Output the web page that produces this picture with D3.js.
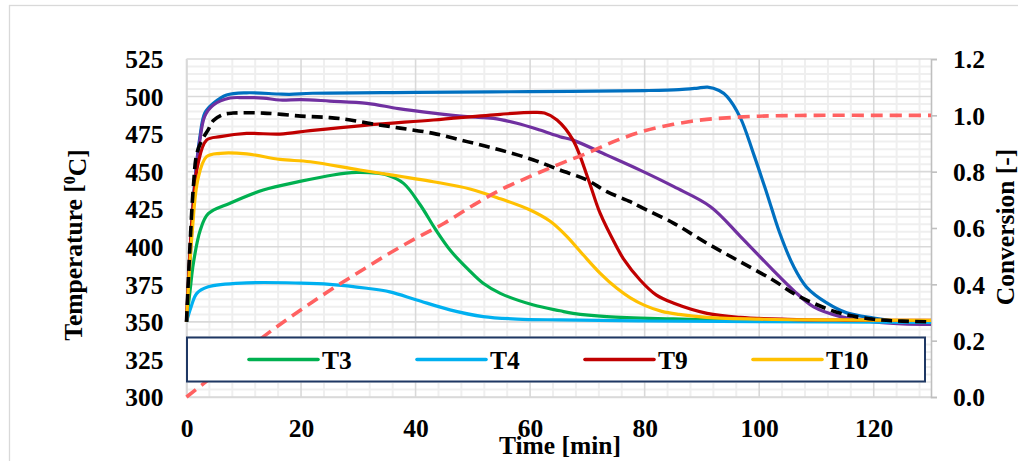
<!DOCTYPE html>
<html>
<head>
<meta charset="utf-8">
<script src="https://cdn.jsdelivr.net/npm/d3@7"></script>
<style>
  html, body { margin: 0; padding: 0; background: #fff; }
  svg { display: block; }
  text { font-family: "Liberation Serif", "Times New Roman", serif; font-weight: bold; fill: #000; }
</style>
</head>
<body>
<svg id="chart" width="1018" height="461"></svg>
<script>
// ---- data: temperatures [°C] against time [min] ----
const timeTicks = [0, 20, 40, 60, 80, 100, 120];
const tempTicks = [300, 325, 350, 375, 400, 425, 450, 475, 500, 525];
const convTicks = [0, 0.2, 0.4, 0.6, 0.8, 1.0, 1.2];

const legendNames = ["T3", "T4", "T9", "T10"];

// hottest thermocouple (blue)
const tempBlue = [
  [0, 350], [1, 420], [1.5, 445], [2.3, 472], [3.2, 489], [4.7, 495.5], [7, 501],
  [10.5, 502.5], [16, 501.7], [18, 501.5], [22, 502.2], [40, 502.8], [60, 503.3],
  [80, 504], [86, 504.6], [89, 505.5], [91, 506.3], [93, 504], [94.4, 500],
  [96.7, 486], [99, 462], [101.3, 436], [103.6, 409], [106, 387], [108.3, 373],
  [111.8, 362.6], [115.3, 356], [120, 352.5], [125, 350], [130, 348.5]
];
// purple thermocouple
const tempPurple = [
  [0, 350], [1, 415], [1.5, 445], [2.3, 470], [3.2, 487], [4.7, 494.4], [7.6, 499],
  [10, 499.3], [13.4, 499], [16.3, 497.7], [20, 498], [25, 497], [31.5, 495.5],
  [37, 492], [43.1, 489], [49, 486.6], [53.6, 485.5], [57.7, 482.2], [61.7, 477.7],
  [65.2, 473.3], [67.5, 471], [73.4, 461], [79.2, 451], [85.1, 440], [91.5, 426.7],
  [96.7, 407], [102.4, 384.5], [106, 371], [109.5, 360], [114.2, 353.5], [120, 350],
  [125, 348.7], [130, 348.3]
];
// mean bed temperature (black dashed)
const tempMean = [
  [0, 350], [0.6, 400], [1.2, 440], [1.8, 462], [2.7, 471], [3.8, 478], [4.7, 484],
  [6.4, 488], [8.1, 489], [13.4, 489], [20, 487], [25, 486], [28.6, 484.4],
  [33, 481.5], [37.3, 479], [43.1, 475.5], [49, 470], [54.8, 464.4], [60.6, 457.8],
  [65.2, 451.1], [69.9, 444.5], [73.4, 436.7], [77.5, 430], [79.2, 426.7], [85.1, 415.6],
  [90.9, 402.3], [96.7, 390], [102.4, 377.9], [106, 369], [109.5, 362.4],
  [114.2, 355.7], [120, 351.7], [125, 350.5], [130, 350]
];
const tempT3 = [
  [0, 350], [0.6, 370], [1.2, 389], [2.4, 411], [3.8, 422], [7.6, 429], [13.4, 437.8],
  [19.8, 443.5], [25.6, 447.8], [29.7, 449.5], [32, 449.3], [35, 447.8],
  [37.9, 442.2], [40.8, 428], [43.5, 411.5], [46.2, 397], [49.3, 384.5],
  [51.8, 375.7], [54.8, 369], [60.6, 361.2], [65.2, 357.4], [67.5, 355.7],
  [73.4, 353.5], [85, 352], [100, 350.8], [130, 350.5]
];
const tempT4 = [
  [0, 350], [0.8, 360], [1.8, 369], [3.8, 373.4], [10.5, 376], [20, 375.8], [25, 375],
  [31.5, 372.4], [35.5, 370], [40.2, 364.6], [46, 358], [51.8, 353.5], [57.7, 351.9],
  [65.2, 351.3], [80, 350.6], [100, 350.2], [130, 349.7]
];
const tempT9 = [
  [0, 350], [1, 420], [2, 455], [3.5, 471], [5.9, 473.3], [10.5, 475.5], [16.3, 475],
  [21.6, 477.3], [31.5, 481], [43.1, 484.4], [54.8, 488.2], [60.6, 489.5], [62.5, 489],
  [64.7, 484.4], [67.5, 471], [70.2, 444.5], [72.2, 422.5], [75.1, 400],
  [76.3, 392], [79.2, 377.9], [82, 368], [85.1, 362.4], [90.9, 355.7], [96.7, 353],
  [105, 351.7], [115, 351.2], [130, 351]
];
const tempT10 = [
  [0, 350], [1, 410], [2, 445], [3.5, 460], [5.9, 462.2], [10.5, 461.8], [16.3, 458.2],
  [21.6, 456.6], [30.3, 451.1], [43.1, 443.3], [49.5, 438.5], [54.8, 432],
  [60, 424.5], [63.5, 417], [66.4, 407], [69.3, 394.5], [72.2, 382.5],
  [75.1, 372.5], [77.5, 366], [80, 361], [83, 357], [86, 355], [90.9, 353],
  [100, 351.8], [115, 351.3], [130, 351]
];
// conversion [-] on the secondary axis
const conversion = [
  [0, 0], [5, 0.08], [10, 0.16], [15, 0.238], [20, 0.31], [25, 0.378], [30, 0.442],
  [35, 0.505], [40, 0.563], [45, 0.617], [50, 0.68], [55, 0.737], [60, 0.783],
  [65, 0.826], [70, 0.866], [75, 0.91], [80, 0.945], [85, 0.968], [90, 0.984],
  [95, 0.992], [100, 0.997], [105, 0.999], [110, 1.0], [120, 1.0], [130, 1.0]
];

// ---- layout ----
const svg = d3.select("#chart");
const plot = { left: 186.5, right: 931, top: 59, bottom: 397 };

const x = d3.scaleLinear().domain([0, 130]).range([plot.left, plot.right]);
const y = d3.scaleLinear().domain([300, 525]).range([plot.bottom, plot.top]);
const y2 = d3.scaleLinear().domain([0, 1.2]).range([plot.bottom, plot.top]);

// outer chart frame
svg.append("rect")
  .attr("x", 9.5).attr("y", 5.5).attr("width", 1100).attr("height", 600)
  .attr("fill", "#fff").attr("stroke", "#d9d9d9").attr("stroke-width", 1.3);

// ---- gridlines ----
const grid = svg.append("g");
const minorX = d3.range(0, 131, 4).filter(v => v % 20 !== 0);
const minorY = d3.range(300, 526, 5).filter(v => v % 25 !== 0);

grid.selectAll(".vminor").data(minorX).join("line")
  .attr("x1", d => x(d)).attr("x2", d => x(d))
  .attr("y1", plot.top).attr("y2", plot.bottom)
  .attr("stroke", "#efefef").attr("stroke-width", 2);
grid.selectAll(".hminor").data(minorY).join("line")
  .attr("x1", plot.left).attr("x2", plot.right)
  .attr("y1", d => y(d)).attr("y2", d => y(d))
  .attr("stroke", "#efefef").attr("stroke-width", 2);
grid.selectAll(".vmajor").data(timeTicks).join("line")
  .attr("x1", d => x(d)).attr("x2", d => x(d))
  .attr("y1", plot.top).attr("y2", plot.bottom)
  .attr("stroke", "#d9d9d9").attr("stroke-width", 1.6);
grid.selectAll(".hmajor").data(tempTicks).join("line")
  .attr("x1", plot.left).attr("x2", plot.right)
  .attr("y1", d => y(d)).attr("y2", d => y(d))
  .attr("stroke", "#d9d9d9").attr("stroke-width", 1.6);

// ---- axes ----
const fontSize = 25.5;

const leftAxis = svg.append("g")
  .attr("transform", `translate(${plot.left},0)`)
  .call(d3.axisLeft(y).tickValues(tempTicks).tickSize(0).tickPadding(23));
leftAxis.select(".domain").attr("stroke", "#d9d9d9").attr("stroke-width", 1.6);
leftAxis.selectAll("text").style("font-size", fontSize + "px").attr("dy", "0.34em");

const bottomAxis = svg.append("g")
  .attr("transform", `translate(0,${plot.bottom})`)
  .call(d3.axisBottom(x).tickValues(timeTicks).tickSize(0));
bottomAxis.select(".domain").attr("stroke", "#d9d9d9").attr("stroke-width", 1.6);
bottomAxis.selectAll("text").style("font-size", fontSize + "px").attr("y", 40).attr("dy", 0);

const rightAxis = svg.append("g")
  .attr("transform", `translate(${plot.right},0)`)
  .call(d3.axisRight(y2).tickValues(convTicks).tickSize(6).tickPadding(16).tickFormat(d3.format(".1f")));
rightAxis.select(".domain").attr("stroke", "#bfbfbf").attr("stroke-width", 1.6);
rightAxis.selectAll(".tick line").attr("stroke", "#bfbfbf").attr("stroke-width", 1.6);
rightAxis.selectAll("text").style("font-size", fontSize + "px").attr("dy", "0.34em");

// ---- series (smoothed lines) ----
const smooth = d3.curveCatmullRom.alpha(0.5);
const lineT = d3.line().x(d => x(d[0])).y(d => y(d[1])).curve(smooth);
const lineC = d3.line().x(d => x(d[0])).y(d => y2(d[1])).curve(smooth);

const series = [
  { data: tempBlue, color: "#0070C0" },
  { data: tempPurple, color: "#7030A0" },
  { data: tempT3, color: "#00B050" },
  { data: tempT4, color: "#00B0F0" },
  { data: tempT9, color: "#C00000" },
  { data: tempT10, color: "#FFC000" },
  { data: tempMean, color: "#000000", dash: "11,6", width: 3.6 }
];

const lines = svg.append("g").attr("fill", "none").attr("stroke-linejoin", "round");
series.forEach(s => {
  lines.append("path")
    .attr("d", lineT(s.data))
    .attr("stroke", s.color)
    .attr("stroke-width", s.width || 3.2)
    .attr("stroke-dasharray", s.dash || null);
});
lines.append("path")
  .attr("d", lineC(conversion))
  .attr("stroke", "#FF6161")
  .attr("stroke-width", 3.6)
  .attr("stroke-dasharray", "12,7");

// ---- legend ----
const legendColors = ["#00B050", "#00B0F0", "#C00000", "#FFC000"];
const legend = svg.append("g");
legend.append("rect")
  .attr("x", 187).attr("y", 337.5).attr("width", 738).attr("height", 44)
  .attr("fill", "#fff").attr("stroke", "#1F3864").attr("stroke-width", 2);

const item = legend.selectAll(".item").data(legendNames).join("g")
  .attr("transform", (d, i) => `translate(${249 + i * 168},0)`);
item.append("line")
  .attr("x1", 0).attr("x2", 69).attr("y1", 359.5).attr("y2", 359.5)
  .attr("stroke", (d, i) => legendColors[i]).attr("stroke-width", 3.6)
  .attr("stroke-linecap", "round");
item.append("text")
  .attr("x", 73).attr("y", 368.5)
  .style("font-size", fontSize + "px")
  .text(d => d);

// ---- axis titles ----
svg.append("text")
  .attr("x", 560).attr("y", 454)
  .attr("text-anchor", "middle")
  .style("font-size", fontSize + "px")
  .text("Time [min]");

const yTitle = svg.append("text")
  .attr("transform", "translate(82,245) rotate(-90)")
  .attr("text-anchor", "middle")
  .style("font-size", fontSize + "px");
yTitle.append("tspan").text("Temperature  [");
yTitle.append("tspan").attr("dy", "-0.45em").style("font-size", "16px").text("0");
yTitle.append("tspan").attr("dy", "0.45em").text("C]");

svg.append("text")
  .attr("transform", "translate(1014,227) rotate(-90)")
  .attr("text-anchor", "middle")
  .style("font-size", fontSize + "px")
  .text("Conversion [-]");
</script>
</body>
</html>
